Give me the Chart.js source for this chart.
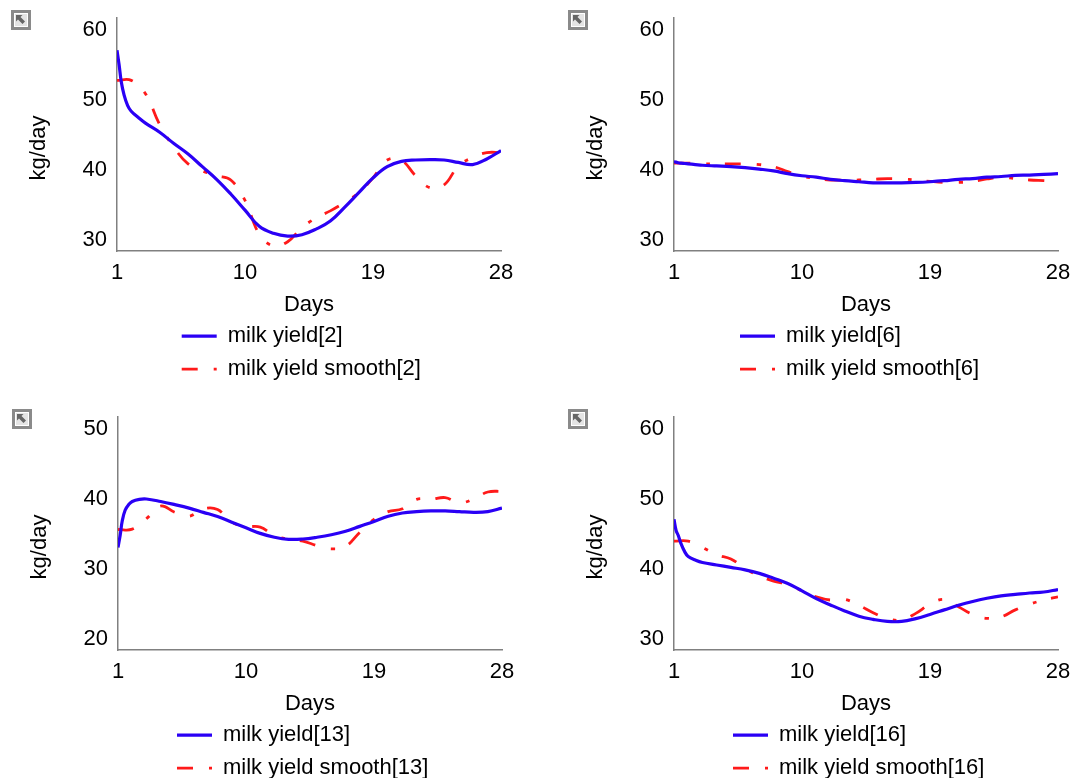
<!DOCTYPE html>
<html>
<head>
<meta charset="utf-8">
<title>milk yield</title>
<script src="https://cdn.jsdelivr.net/npm/chart.js@4"></script>
<style>
  body { margin: 0; background: #fff; width: 1073px; height: 778px; overflow: hidden; position: relative; }
  canvas { position: absolute; }
  svg { position: absolute; }
</style>
</head>
<body>
<script>
// days for the raw curve, denser at the start where it drops fast
const rawDays = [1, 1.15, 1.3, 1.5, 1.75, 2, 2.5, 3, 4, 5, 6, 7, 8, 9, 10, 11, 12, 13, 14, 15, 16, 17, 18, 19, 20, 21, 22, 23, 24, 25, 26, 27, 28];
const smoothDays = [1, 2, 3, 4, 5, 6, 7, 8, 9, 10, 11, 12, 13, 14, 15, 16, 17, 18, 19, 20, 21, 22, 23, 24, 25, 26, 27, 28];
const xTicks = [1, 10, 19, 28];

const milkYield2 = [57.1, 55, 52.6, 50.7, 49.2, 48.4, 47.5, 46.7, 45.4, 43.8, 42.3, 40.5, 38.7, 36.6, 34.3, 32, 31, 30.6, 30.8, 31.6, 32.75, 34.7, 36.8, 38.9, 40.5, 41.25, 41.45, 41.5, 41.45, 41.1, 40.8, 41.6, 42.8];
const milkYieldSmooth2 = [52.8, 52.8, 50.9, 46.5, 43.25, 40.9, 39.9, 39.2, 38.6, 35.7, 30.9, 29.2, 29.8, 31.8, 33.2, 34.2, 35.4, 36.8, 38.9, 41.45, 41.4, 39.2, 37.5, 37.9, 40.6, 41.8, 42.5, 42.5];
const yTicks2 = [30, 40, 50, 60];

const milkYield6 = [41.2, 41.15, 41.05, 41, 40.95, 40.9, 40.8, 40.7, 40.6, 40.5, 40.35, 40.15, 39.9, 39.5, 39.2, 39, 38.7, 38.5, 38.35, 38.2, 38.2, 38.2, 38.25, 38.35, 38.5, 38.7, 38.8, 39, 39.1, 39.25, 39.3, 39.4, 39.5];
const milkYieldSmooth6 = [41, 41, 40.9, 40.9, 40.9, 40.9, 40.8, 40.5, 39.8, 39.15, 38.8, 38.6, 38.6, 38.6, 38.7, 38.8, 38.75, 38.6, 38.4, 38.25, 38.25, 38.4, 38.75, 39, 38.8, 38.6, 38.5, 38.4];
const yTicks6 = [30, 40, 50, 60];

const milkYield13 = [33.1, 34.8, 36.9, 38.4, 39.2, 39.65, 39.95, 40, 39.65, 39.2, 38.7, 38.1, 37.5, 36.7, 35.9, 35.1, 34.55, 34.25, 34.3, 34.55, 34.9, 35.4, 36.1, 36.8, 37.55, 38, 38.2, 38.3, 38.3, 38.2, 38.1, 38.2, 38.7];
const milkYieldSmooth13 = [35.65, 35.7, 37.2, 39, 38.1, 37.55, 38.6, 38.5, 36.7, 36.1, 36, 34.8, 34.25, 34, 33.35, 32.9, 33.25, 35.25, 37.1, 38.2, 38.6, 39.95, 39.95, 40.2, 39.45, 40, 41, 41.1];
const yTicks13 = [20, 30, 40, 50];

const milkYield16 = [47.1, 45.5, 44.8, 43.6, 42.5, 41.8, 41.3, 40.95, 40.6, 40.25, 39.9, 39.4, 38.7, 37.95, 36.9, 35.8, 34.9, 34.05, 33.3, 32.85, 32.55, 32.55, 32.95, 33.55, 34.2, 34.85, 35.4, 35.85, 36.2, 36.4, 36.6, 36.75, 37.1];
const milkYieldSmooth16 = [44, 44, 43.1, 42.06, 41.45, 40.1, 39.05, 38.3, 37.85, 36.9, 36.05, 35.6, 35.7, 34.85, 33.8, 32.95, 32.75, 33.7, 35, 35.7, 34.65, 33.55, 33, 33.2, 34.2, 35, 35.6, 36.05];
const yTicks16 = [30, 40, 50, 60];

const fontName = '"Liberation Sans", Arial, sans-serif';
const textColor = '#000';

// moves the stacked legend and draws the y title, which sits below the axis middle
const panelExtras = {
    id: 'panelExtras',
    afterLayout(chart) {
        const opts = chart.options.plugins.panelExtras;
        const legend = chart.legend;
        legend.left = opts.legendX - 11;
        legend.top = opts.legendY - 21.5;
        // the legend clips to its own box
        legend.right = chart.width;
        legend.bottom = chart.height;
    },
    afterDraw(chart) {
        const ctx = chart.ctx;
        ctx.save();
        ctx.translate(38.5, 148);
        ctx.rotate(-Math.PI / 2);
        ctx.font = '22px ' + fontName;
        ctx.fillStyle = textColor;
        ctx.textAlign = 'center';
        ctx.textBaseline = 'middle';
        ctx.fillText('kg/day', 0, 0);
        ctx.restore();
    }
};

function makePanel(cfg) {
    const canvas = document.createElement('canvas');
    canvas.width = 516;
    canvas.height = 400;
    canvas.style.left = cfg.left + 'px';
    canvas.style.top = cfg.top + 'px';
    document.body.appendChild(canvas);

    new Chart(canvas.getContext('2d'), {
        type: 'line',
        data: {
            datasets: [
                {
                    label: 'milk yield[' + cfg.id + ']',
                    data: rawDays.map((d, i) => ({ x: d, y: cfg.raw[i] })),
                    borderColor: '#2a00f5',
                    borderWidth: 3.2,
                    pointRadius: 0,
                    tension: 0.4,
                },
                {
                    label: 'milk yield smooth[' + cfg.id + ']',
                    data: smoothDays.map((d, i) => ({ x: d, y: cfg.smooth[i] })),
                    borderColor: '#ff1a1a',
                    borderWidth: 2.8,
                    borderDash: [16, 16, 4, 15],
                    pointRadius: 0,
                    tension: 0.4,
                }
            ],
        },
        options: {
            responsive: false,
            animation: false,
            layout: { padding: { top: 18, right: 15, bottom: 6, left: 0 } },
            plugins: {
                tooltip: { enabled: false },
                panelExtras: { legendX: cfg.legendX, legendY: 335.7 },
                legend: {
                    position: 'bottom',
                    align: 'start',
                    fullSize: false,
                    labels: {
                        usePointStyle: true,
                        pointStyleWidth: 35,
                        padding: 11,
                        color: textColor,
                        font: { family: fontName, size: 22 },
                        generateLabels: (chart) => chart.data.datasets.map((ds, i) => ({
                            text: ds.label,
                            strokeStyle: ds.borderColor,
                            fillStyle: ds.borderColor,
                            fontColor: textColor,
                            lineWidth: ds.borderWidth,
                            lineDash: ds.borderDash,
                            pointStyle: 'line',
                            datasetIndex: i,
                        })),
                    },
                },
            },
            scales: {
                x: {
                    type: 'linear',
                    min: 1,
                    max: 28,
                    afterBuildTicks: (scale) => { scale.ticks = xTicks.map((v) => ({ value: v })); },
                    afterFit: (scale) => { scale.paddingLeft = 0; scale.paddingRight = 0; },
                    grid: { display: false, drawTicks: false, tickLength: 0 },
                    border: { color: '#808080', width: 1.5 },
                    ticks: {
                        color: textColor,
                        padding: 9,
                        maxRotation: 0,
                        font: { family: fontName, size: 22 },
                    },
                    title: {
                        display: true,
                        text: 'Days',
                        color: textColor,
                        padding: { top: -4, bottom: 0 },
                        font: { family: fontName, size: 22 },
                    },
                },
                y: {
                    min: cfg.yMin,
                    max: cfg.yMax,
                    afterBuildTicks: (scale) => { scale.ticks = cfg.yTicks.map((v) => ({ value: v })); },
                    afterFit: (scale) => { scale.width = 117; scale.paddingTop = 0; scale.paddingBottom = 0; },
                    grid: { display: false, drawTicks: false, tickLength: 0 },
                    border: { color: '#808080', width: 1.5 },
                    ticks: {
                        color: textColor,
                        padding: 10,
                        font: { family: fontName, size: 22 },
                    },
                },
            },
        },
        plugins: [panelExtras],
    });

    // little "open figure" button in the corner of each panel
    const ns = 'http://www.w3.org/2000/svg';
    const icon = document.createElementNS(ns, 'svg');
    icon.setAttribute('width', '20');
    icon.setAttribute('height', '20');
    icon.style.left = (cfg.left + 11) + 'px';
    icon.style.top = (cfg.top + 10) + 'px';
    icon.innerHTML = '<rect x="1.5" y="1.5" width="17" height="17" fill="#fff" stroke="#8a8a8a" stroke-width="3"/>' +
        '<rect x="4" y="4" width="12" height="12" fill="#e4e4e4"/>' +
        '<path d="M5 5h6.5l-2 2 4.5 4.5-2.5 2.5L7 9.5l-2 2z" fill="#666"/>';
    document.body.appendChild(icon);
}

makePanel({ id: 2, left: 0, top: 0, legendX: 181.7, raw: milkYield2, smooth: milkYieldSmooth2, yTicks: yTicks2, yMin: 28.45, yMax: 61.69 });
makePanel({ id: 6, left: 557, top: 0, legendX: 183, raw: milkYield6, smooth: milkYieldSmooth6, yTicks: yTicks6, yMin: 28.45, yMax: 61.69 });
makePanel({ id: 13, left: 1, top: 399, legendX: 176, raw: milkYield13, smooth: milkYieldSmooth13, yTicks: yTicks13, yMin: 18.45, yMax: 51.69 });
makePanel({ id: 16, left: 557, top: 399, legendX: 176, raw: milkYield16, smooth: milkYieldSmooth16, yTicks: yTicks16, yMin: 28.45, yMax: 61.69 });
</script>
</body>
</html>
